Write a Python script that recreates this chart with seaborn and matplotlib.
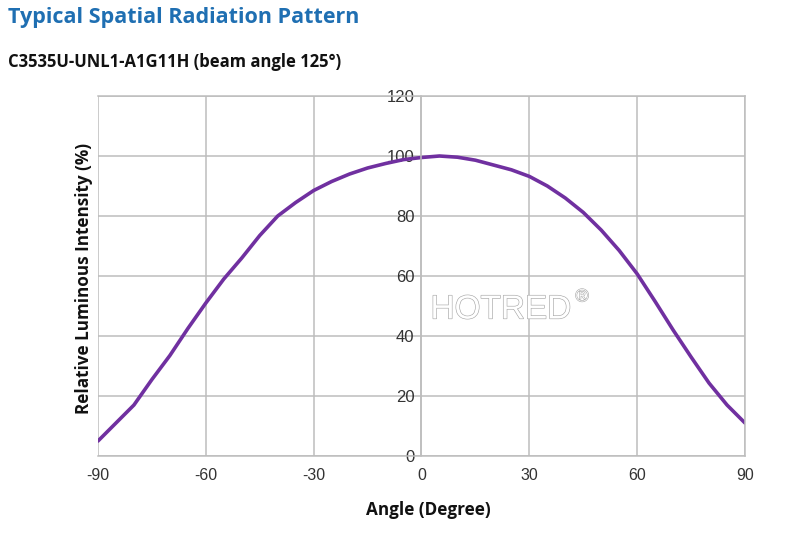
import numpy as np
import pandas as pd
import matplotlib
matplotlib.use("Agg")
import matplotlib.pyplot as plt
import matplotlib.patheffects as pe
import seaborn as sns

angles = [-90, -85, -80, -75, -70, -65, -60, -55, -50, -45, -40, -35, -30, -25, -20, -15, -10, -5,
          0, 5, 10, 15, 20, 25, 30, 35, 40, 45, 50, 55, 60, 65, 70, 75, 80, 85, 90]
intensity = [5, 11, 17, 25.5, 33.5, 42.5, 51, 59, 66, 73.5, 80, 84.5, 88.5, 91.5, 94, 96, 97.5, 98.8,
             99.5, 100, 99.6, 98.6, 97, 95.4, 93.2, 90, 86, 81.2, 75.3, 68.5, 60.7, 51.5, 42, 33, 24.3, 17, 11]
x_ticks = [-90, -60, -30, 0, 30, 60, 90]
y_ticks = [0, 20, 40, 60, 80, 100, 120]

df = pd.DataFrame({"Angle": angles, "Intensity": intensity})

sns.set_style("white")
plt.rcParams['font.family'] = ['Open Sans', 'DejaVu Sans']
plt.rcParams['axes.unicode_minus'] = False

fig = plt.figure(figsize=(8, 5.47), dpi=100)
ax = fig.add_axes([98/800, 1-456/547, (745-98)/800, (456-96)/547])

sns.lineplot(data=df, x="Angle", y="Intensity", ax=ax, color="#7030A0", linewidth=2.6)

ax.set_xlim(-90, 90)
ax.set_ylim(0, 120)
ax.set_xticks(x_ticks)
ax.set_yticks(y_ticks)
ax.set_xticklabels([str(v) for v in x_ticks])
ax.set_yticklabels([str(v) for v in y_ticks])
ax.grid(True, color="#BDBDBD", linewidth=1.1)
for s in ax.spines.values():
    s.set_color("#BDBDBD")
    s.set_linewidth(1.1)
ax.spines['left'].set_position(('data', 0))
ax.tick_params(length=0)
ax.set_xlabel("")
ax.set_ylabel("")
tickfam = ['Liberation Sans', 'DejaVu Sans']
for lab in ax.get_xticklabels():
    lab.set_family(tickfam); lab.set_fontsize(11.5); lab.set_color("#333333")
for lab in ax.get_yticklabels():
    lab.set_family(tickfam); lab.set_fontsize(12); lab.set_color("#333333")
ax.tick_params(axis='x', pad=9)
ax.tick_params(axis='y', pad=5)

fig.text(8/800, 1-18/547, "Typical Spatial Radiation Pattern", color="#1F6FB2",
         fontsize=15.5, fontweight="bold", va="center", ha="left")
fig.text(8/800, 1-62/547, "C3535U-UNL1-A1G11H (beam angle 125°)", color="#111111",
         fontsize=12, fontweight="bold", va="center", ha="left")
fig.text(428/800, 1-510/547, "Angle (Degree)", fontsize=12.3, fontweight="bold",
         ha="center", va="center", color="#111111")
fig.text(84/800, 1-278/547, "Relative Luminous Intensity (%)", fontsize=12.3, fontweight="bold",
         ha="center", va="center", rotation=90, color="#111111")

wm = fig.text(501/800, 1-310/547, "HOTRED", fontsize=24, color="white",
              family=['Liberation Sans', 'DejaVu Sans'], ha="center", va="center")
wm.set_path_effects([pe.Stroke(linewidth=0.9, foreground="#A8A8A8"), pe.Normal()])
r = fig.text(582/800, 1-297/547, "®", fontsize=13, color="white", ha="center", va="center",
             family=['Liberation Sans', 'DejaVu Sans'])
r.set_path_effects([pe.Stroke(linewidth=0.8, foreground="#A8A8A8"), pe.Normal()])

fig.savefig("out.png", dpi=100)
